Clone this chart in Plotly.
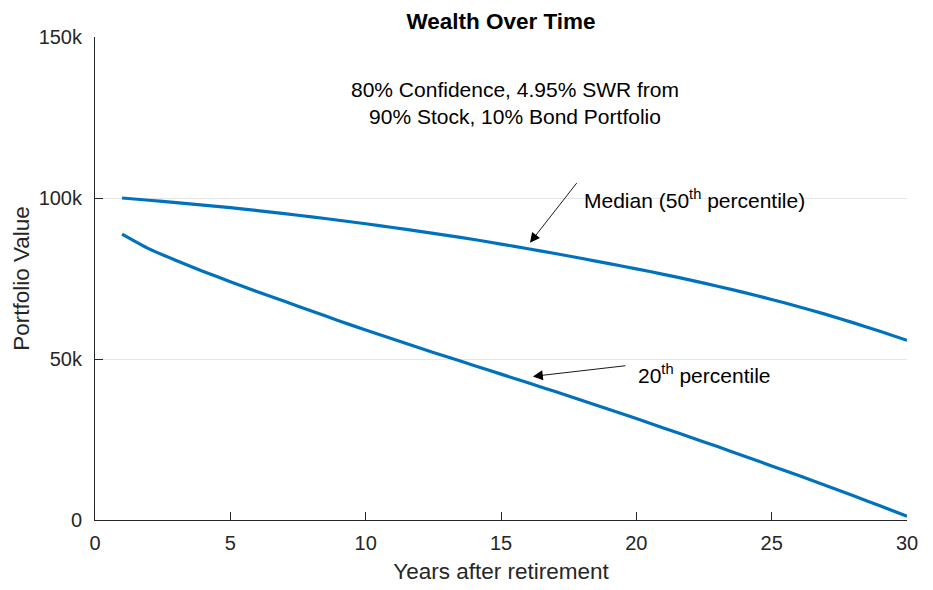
import plotly.graph_objects as go

years = list(range(1, 31))
median_k = [100.0, 99.3, 98.55, 97.8, 97.0, 96.1, 95.15, 94.15, 93.1, 92.0,
            90.85, 89.65, 88.4, 87.1, 85.7, 84.25, 82.75, 81.2, 79.6, 78.0,
            76.3, 74.5, 72.6, 70.6, 68.5, 66.25, 63.85, 61.3, 58.6, 55.8]
p20_k = [88.8, 84.2, 80.6, 77.2, 74.0, 70.9, 67.9, 64.9, 61.9, 59.0,
         56.2, 53.4, 50.7, 48.0, 45.3, 42.6, 39.9, 37.1, 34.3, 31.5,
         28.6, 25.7, 22.8, 19.8, 16.8, 13.8, 10.7, 7.6, 4.4, 1.2]
median = [v * 1000 for v in median_k]
p20 = [v * 1000 for v in p20_k]

x_ticks = [0, 5, 10, 15, 20, 25, 30]
y_ticks = [0, 50000, 100000, 150000]
y_ticktext = ["0", "50k", "100k", "150k"]

FONT = "Liberation Sans, Arial, sans-serif"
BLUE = "#0072BD"
AX = "#262626"

# the page body adds an 8px offset; the figure is sized to fill the window
W, H, OFF = 925, 584, 8

fig = go.Figure()
for ys in (median, p20):
    fig.add_trace(go.Scatter(x=years, y=ys, mode="lines",
                             line=dict(color=BLUE, width=3.2, shape="spline",
                                       smoothing=0.6),
                             showlegend=False))

fig.update_layout(
    width=W, height=H,
    margin=dict(l=95 - OFF, r=26, t=37 - OFF, b=65, pad=0),
    paper_bgcolor="white", plot_bgcolor="white",
    font=dict(family=FONT, color="#000000", size=20),
    title=dict(text="<b>Wealth Over Time</b>", x=(501 - OFF) / W, xanchor="center",
               y=1 - (21 - OFF) / H, yanchor="middle",
               font=dict(family=FONT, size=22.5, color="#000000")),
    xaxis=dict(range=[0, 30], tickvals=x_ticks, ticks="inside", ticklen=8,
               tickcolor=AX, showline=True, linecolor=AX, linewidth=1,
               showgrid=False, zeroline=False, mirror=False,
               tickfont=dict(size=20, color="#262626"),
               ticklabelstandoff=5,
               title=dict(text="Years after retirement", standoff=10,
                          font=dict(size=22.5, color="#262626"))),
    yaxis=dict(range=[0, 150000], tickvals=y_ticks, ticktext=y_ticktext,
               ticks="inside", ticklen=8, tickcolor=AX, showline=True,
               linecolor=AX, linewidth=1, showgrid=True, gridcolor="#E6E6E6",
               gridwidth=1, zeroline=False, mirror=False,
               tickfont=dict(size=20, color="#262626"),
               ticklabelstandoff=8,
               title=dict(text="Portfolio Value", standoff=2,
                          font=dict(size=22.5, color="#262626"))),
)

fig.add_annotation(x=15.5, y=129400, xref="x", yref="y",
                   text="80% Confidence, 4.95% SWR from<br>90% Stock, 10% Bond Portfolio",
                   showarrow=False, align="center",
                   font=dict(family=FONT, size=21, color="#000000"))

# Median arrow and label
fig.add_annotation(x=16.07, y=86100, ax=17.84, ay=105100, xref="x", yref="y",
                   axref="x", ayref="y", text="", showarrow=True,
                   arrowhead=2, arrowsize=2.2, arrowwidth=0.9, arrowcolor="#000000")
fig.add_annotation(x=17.99, y=99800, xref="x", yref="y", xanchor="left",
                   text="Median (50<sup>th</sup> percentile)", showarrow=False,
                   font=dict(family=FONT, size=21, color="#000000"))

# 20th percentile arrow and label
fig.add_annotation(x=16.18, y=44600, ax=19.65, ay=47960, xref="x", yref="y",
                   axref="x", ayref="y", text="", showarrow=True,
                   arrowhead=2, arrowsize=2.2, arrowwidth=0.9, arrowcolor="#000000")
fig.add_annotation(x=19.99, y=45400, xref="x", yref="y", xanchor="left",
                   text="20<sup>th</sup> percentile", showarrow=False,
                   font=dict(family=FONT, size=21, color="#000000"))

fig.write_html("out.html")
